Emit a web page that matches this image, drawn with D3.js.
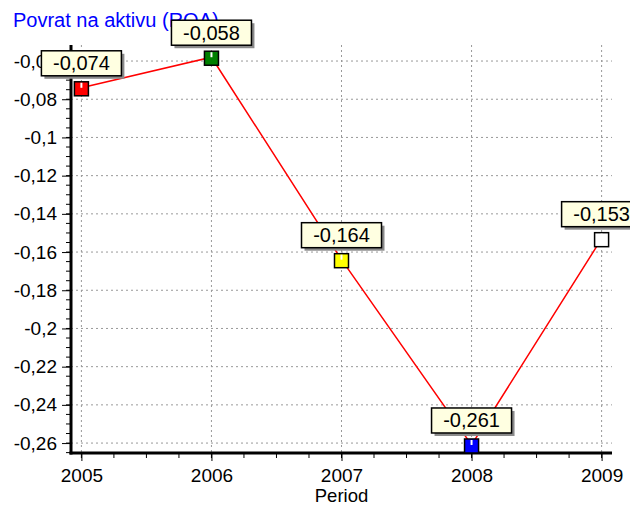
<!DOCTYPE html>
<html><head><meta charset="utf-8">
<script src="https://cdn.jsdelivr.net/npm/d3@7"></script>
<style>body{margin:0;background:#fff}svg{display:block;font-family:"Liberation Sans",Arial,sans-serif}</style>
</head><body>
<svg id="c" width="630" height="507"></svg>
<script>
const years = [2005, 2006, 2007, 2008, 2009];
const values = [-0.074, -0.058, -0.164, -0.261, -0.153];
const markerColors = ["#ff0000", "#008000", "#ffff00", "#0000ff", "#ffffff"];
const yTicks = [-0.06, -0.08, -0.1, -0.12, -0.14, -0.16, -0.18, -0.2, -0.22, -0.24, -0.26];
const title = "Povrat na aktivu (ROA)";
const xTitle = "Period";

const svg = d3.select("#c");
const L = 71, R = 612, T = 45, B = 453;
const x = d3.scaleLinear().domain([2004.92, 2009.08]).range([L, R]);
const y = d3.scaleLinear().domain([-0.2652, -0.0516]).range([B, T]);
const fmt = v => String(+v.toFixed(3)).replace(".", ",");

// title
svg.append("text").attr("x", 13).attr("y", 27).attr("fill", "#0000ff")
  .attr("font-size", 20).text(title);

// grid
const g = svg.append("g");
g.selectAll(".hg").data(yTicks).join("line")
  .attr("x1", L).attr("x2", R).attr("y1", d => y(d)).attr("y2", d => y(d))
  .attr("stroke", "#999").attr("stroke-width", 1).attr("stroke-dasharray", "2,3");
g.selectAll(".vg").data(years).join("line")
  .attr("y1", T).attr("y2", B).attr("x1", d => x(d)).attr("x2", d => x(d))
  .attr("stroke", "#999").attr("stroke-width", 1).attr("stroke-dasharray", "2,3");

// minor ticks
const yMinor = d3.range(-0.265, -0.05, 0.005).filter(v => y(v) >= T);
svg.append("g").selectAll("line").data(yMinor).join("line")
  .attr("x1", L - 5).attr("x2", L).attr("y1", d => y(d)).attr("y2", d => y(d))
  .attr("stroke", "#000").attr("stroke-width", 1);
const xMinor = d3.range(2005, 2009.01, 0.25);
svg.append("g").selectAll("line").data(xMinor).join("line")
  .attr("y1", B).attr("y2", B + 5).attr("x1", d => x(d)).attr("x2", d => x(d))
  .attr("stroke", "#000").attr("stroke-width", 1);

// axes
const yAxis = d3.axisLeft(y).tickValues(yTicks).tickSize(9).tickPadding(5).tickFormat(fmt);
const ya = svg.append("g").attr("transform", `translate(${L},0)`).call(yAxis);
const xAxis = d3.axisBottom(x).tickValues(years).tickSize(8).tickPadding(8).tickFormat(d3.format("d"));
const xa = svg.append("g").attr("transform", `translate(0,${B})`).call(xAxis);
[ya, xa].forEach(a => {
  a.select(".domain").attr("stroke", "#000").attr("stroke-width", 3);
  a.selectAll(".tick line").attr("stroke", "#000").attr("stroke-width", 1);
  a.selectAll(".tick text").attr("font-size", 19).attr("fill", "#000")
    .attr("font-family", '"Liberation Sans",Arial,sans-serif');
});
ya.select(".domain").attr("d", `M0,${T}V${B + 1.5}`);
xa.select(".domain").attr("d", `M${L - 1.5},0H${R}`);

svg.append("text").attr("x", x(2007)).attr("y", 502).attr("text-anchor", "middle")
  .attr("font-size", 18.5).text(xTitle);

// line
const pts = years.map((yr, i) => ({yr, v: values[i], c: markerColors[i]}));
svg.append("path").datum(pts)
  .attr("d", d3.line().x(d => x(d.yr)).y(d => y(d.v)))
  .attr("fill", "none").attr("stroke", "#ff0000").attr("stroke-width", 1.5);

// markers
const ms = 14;
const mk = svg.append("g").selectAll("g").data(pts).join("g")
  .attr("transform", d => `translate(${x(d.yr)},${y(d.v) + 1})`);
mk.append("rect").attr("x", -ms / 2).attr("y", -ms / 2).attr("width", ms).attr("height", ms)
  .attr("fill", d => d.c).attr("stroke", "#000").attr("stroke-width", 1.5);
mk.append("line").attr("x1", 0).attr("x2", 0).attr("y1", -ms / 2 + 1).attr("y2", -1)
  .attr("stroke", "#fff").attr("stroke-width", 2);

// labels
const bw = 80, bh = 25;
const lb = svg.append("g").selectAll("g").data(pts).join("g")
  .attr("transform", d => `translate(${x(d.yr)},${y(d.v) - 12 - bh})`);
lb.append("rect").attr("x", -bw / 2 + 3).attr("y", 3).attr("width", bw).attr("height", bh)
  .attr("fill", "#8a8a8a");
lb.append("rect").attr("x", -bw / 2).attr("y", 0).attr("width", bw).attr("height", bh)
  .attr("fill", "#ffffe1").attr("stroke", "#000").attr("stroke-width", 1.5);
lb.append("text").attr("x", 0).attr("y", 19.5).attr("text-anchor", "middle")
  .attr("font-size", 20).attr("fill", "#000").text(d => fmt(d.v));
</script>
</body></html>
